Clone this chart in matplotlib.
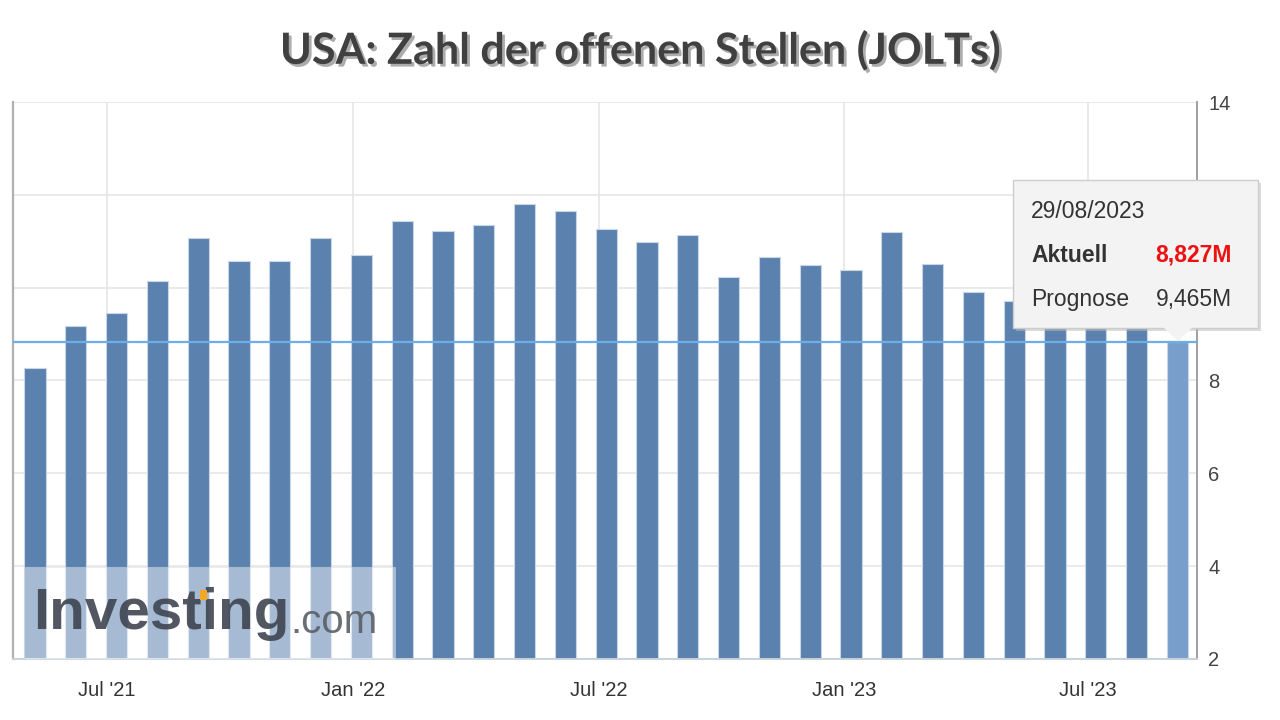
import numpy as np
import matplotlib
matplotlib.use("Agg")
import matplotlib.pyplot as plt
import matplotlib.patheffects as pe
from matplotlib.patches import Rectangle, Polygon

# JOLTS job openings in millions, by release (May 2021 .. Aug 2023)
values = [8.27, 9.18, 9.46, 10.15, 11.06, 10.58, 10.58, 11.06, 10.71, 11.43,
          11.23, 11.34, 11.81, 11.66, 11.27, 10.99, 11.14, 10.24, 10.67, 10.48,
          10.39, 11.19, 10.52, 9.91, 9.72, 10.10, 9.82, 9.58, 8.827]
tick_labels = ["Jul '21", "Jan '22", "Jul '22", "Jan '23", "Jul '23"]
tick_pos = [1.77, 7.80, 13.82, 19.83, 25.81]
y_ticks = [2, 4, 6, 8, 10, 12, 14]
y_labels = ["2", "4", "6", "8", "", "", "14"]  # 10 and 12 sit under the tooltip
current = 8.827
tip_date = "29/08/2023"
tip_actual = "8,827M"
tip_forecast = "9,465M"

plt.rcParams['font.family'] = ['Liberation Sans', 'DejaVu Sans']

fig = plt.figure(figsize=(12.8, 7.2), dpi=100)
ax = fig.add_axes([13/1280, 1-659/720, (1197-13)/1280, (659-102)/720])

x = np.arange(len(values))
colors = ['#5b82ae'] * (len(values) - 1) + ['#789fcb']
ax.bar(x, values, width=0.52, color=colors, edgecolor='#c9d6e6', linewidth=0.8,
       zorder=2)
ax.axhline(current, color='#6aaeea', lw=1.6, zorder=3)

ax.set_ylim(2, 14)
ax.set_xlim(-0.54, 28.48)
ax.set_yticks(y_ticks)
ax.set_yticklabels(y_labels)
ax.set_xticks(tick_pos)
ax.set_xticklabels(tick_labels)
ax.yaxis.tick_right()
ax.tick_params(axis='y', length=0, pad=8, labelsize=14.5, labelcolor='#444444')
ax.tick_params(axis='x', length=0, pad=16, labelsize=14.5, labelcolor='#333333')
ax.grid(True, color='#e4e4e4', lw=1.1, zorder=0)
ax.set_axisbelow(True)

ax.spines['top'].set_visible(False)
ax.spines['left'].set_color('#b0b0b0')
ax.spines['left'].set_linewidth(1.6)
ax.spines['right'].set_color('#a0a0a0')
ax.spines['right'].set_linewidth(1.4)
ax.spines['bottom'].set_color('#c8d2dc')
ax.spines['bottom'].set_linewidth(1.4)

# watermark
wm = Rectangle((25/1280, 1-659/720), 370/1280, 92/720, transform=fig.transFigure,
               facecolor='white', alpha=0.46, edgecolor='#d0d8e0', lw=0.8, zorder=5)
fig.patches.append(wm)
fig.text(33/1280, 1-614/720, "Investing", fontsize=42, fontweight='bold',
         color='#3f4550', alpha=0.9, va='center', ha='left', zorder=6)
fig.text(290/1280, 1-622/720, ".com", fontsize=29, color='#5a5e66', alpha=0.9,
         va='center', ha='left', zorder=6)
fig.patches.append(Rectangle((200/1280, 1-600/720), 7/1280, 10/720,
                             transform=fig.transFigure, facecolor='#f5a623',
                             edgecolor='none', zorder=7))

# tooltip
L, R, T, B = 1013, 1258, 180, 328
shadow = Rectangle(((L+3)/1280, 1-(B+3)/720), (R-L)/1280, (B-T)/720,
                   transform=fig.transFigure, facecolor='#bbbbbb', alpha=0.5,
                   edgecolor='none', zorder=8)
box = Rectangle((L/1280, 1-B/720), (R-L)/1280, (B-T)/720, transform=fig.transFigure,
                facecolor='#f3f3f3', edgecolor='#cccccc', lw=1, zorder=9)
ptr = Polygon([(1163/1280, 1-327/720), (1193/1280, 1-327/720), (1178/1280, 1-341/720)],
              closed=True, transform=fig.transFigure, facecolor='#f3f3f3',
              edgecolor='none', zorder=10)
for p in (shadow, box, ptr):
    fig.patches.append(p)
fig.text(1031/1280, 1-211/720, tip_date, fontsize=16.5, color='#333333',
         va='center', zorder=11)
fig.text(1031/1280, 1-255/720, "Aktuell", fontsize=16.5, fontweight='bold',
         color='#333333', va='center', zorder=11)
fig.text(1232/1280, 1-255/720, tip_actual, fontsize=16.5, fontweight='bold',
         color='#ee1111', va='center', ha='right', zorder=11)
fig.text(1031/1280, 1-299/720, "Prognose", fontsize=16.5, color='#333333',
         va='center', zorder=11)
fig.text(1232/1280, 1-299/720, tip_forecast, fontsize=16.5, color='#333333',
         va='center', ha='right', zorder=11)

# title
fig.text(0.5, 1-50/720, "USA: Zahl der offenen Stellen (JOLTs)", fontsize=31,
         fontweight='bold', family=['Lato', 'DejaVu Sans'],
         color='#404040', ha='center', va='center',
         path_effects=[pe.withSimplePatchShadow(offset=(2, -2), alpha=0.35)])

fig.savefig("out.png", dpi=100)
